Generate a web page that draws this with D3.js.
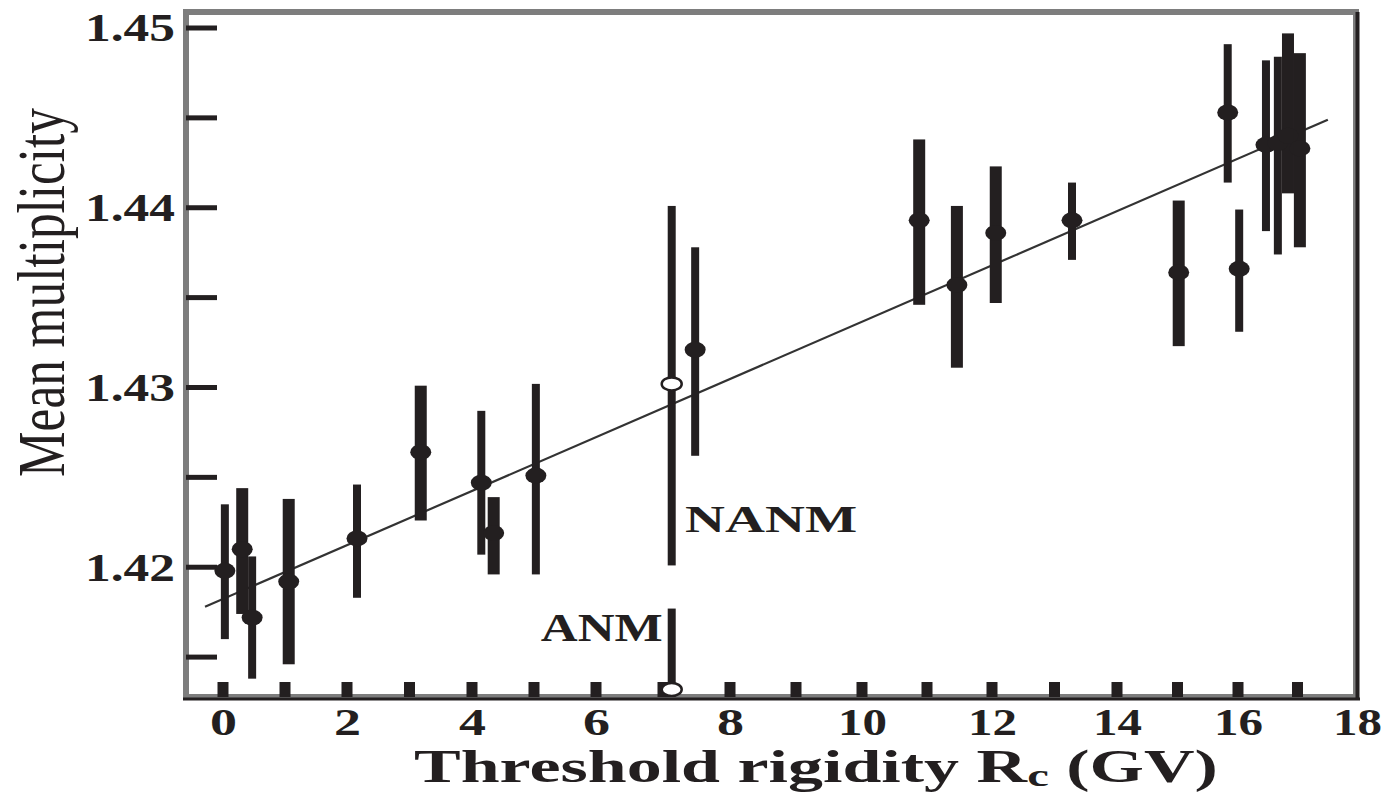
<!DOCTYPE html>
<html>
<head>
<meta charset="utf-8">
<script src="https://cdn.jsdelivr.net/npm/d3@7/dist/d3.min.js"></script>
<style>
  html, body { margin: 0; padding: 0; background: #fff; }
  svg { display: block; }
  text { font-family: "Liberation Serif", "Times New Roman", serif; fill: #231f20; }
</style>
</head>
<body>
<svg id="chart" width="1386" height="793"></svg>
<script>
// ---------------- data ----------------
// Threshold rigidity Rc (GV) of each station
const rigidity = [0.03, 0.31, 0.47, 1.06, 2.16, 3.18, 4.15, 4.35, 5.03, 7.48,
                  10.88, 11.46, 12.06, 13.28, 15.02, 15.83, 16.02, 16.47, 16.67, 16.84, 17.04];
// mean multiplicity
const multiplicity = [1.4198, 1.4210, 1.4172, 1.4192, 1.4216, 1.4264, 1.4247, 1.4219, 1.4251, 1.4321,
                      1.4393, 1.4357, 1.4386, 1.4393, 1.4364, 1.4453, 1.4366, 1.4435, 1.4436, 1.4440, 1.4433];
const errLow  = [1.4160, 1.4174, 1.4138, 1.4146, 1.4183, 1.4226, 1.4207, 1.4196, 1.4196, 1.4262,
                 1.4346, 1.4311, 1.4347, 1.4371, 1.4323, 1.4414, 1.4331, 1.4387, 1.4374, 1.4408, 1.4378];
const errHigh = [1.4235, 1.4244, 1.4206, 1.4238, 1.4246, 1.4301, 1.4287, 1.4239, 1.4302, 1.4378,
                 1.4438, 1.4401, 1.4423, 1.4414, 1.4404, 1.4491, 1.4399, 1.4482, 1.4484, 1.4497, 1.4486];
// detector group (drawn with a narrow or a wide error bar)
const detectorGroup = ["A", "B", "A", "B", "A", "B", "A", "B", "A", "A",
                       "B", "B", "B", "A", "B", "A", "A", "A", "A", "B", "B"];

// open-circle stations (NANM, ANM)
const openNames = ["NANM", "ANM"];
const openRigidity = [7.13, 7.13];
const openMultiplicity = [1.4302, 1.4132];
const openLow  = [1.4201, 1.4080];
const openHigh = [1.4401, 1.4177];

// fitted straight line, end points
const fitX = [-0.29, 17.51];
const fitY = [1.4178, 1.4449];

// axes
const xTickLabels = [0, 2, 4, 6, 8, 10, 12, 14, 16, 18];
const xTickMarks  = [0, 1, 2, 3, 4, 5, 6, 7, 8, 9, 10, 11, 12, 13, 14, 15, 16, 17];
const yTickLabels = [1.42, 1.43, 1.44, 1.45];
const yTickMarks  = [1.415, 1.42, 1.425, 1.43, 1.435, 1.44, 1.445, 1.45];
const xTitle = "Threshold rigidity R";
const xTitleSub = "c";
const xTitleEnd = " (GV)";
const yTitle = "Mean multiplicity";

// ---------------- drawing ----------------
const ink = "#231f20";
const svg = d3.select("#chart");
svg.append("rect").attr("width", 1386).attr("height", 793).attr("fill", "#fff");

// the printed axis is slightly uneven; follow its tick positions (polylinear scale)
const x = d3.scaleLinear()
  .domain(xTickLabels)
  .range([223, 347, 472, 596, 730, 862, 992, 1117, 1238, 1357]);
const T = 12, B = 697;
const L = 186, R = 1356;
const y = d3.scaleLinear().domain([1.41278, 1.45089]).range([B, T]);

svg.append("defs").append("clipPath").attr("id", "plotclip")
  .append("rect").attr("x", L).attr("y", T).attr("width", R - L).attr("height", B - T);

// frame
svg.append("rect").attr("x", L).attr("y", T).attr("width", R - L).attr("height", B - T)
  .attr("fill", "none").attr("stroke", "#7d7d7d").attr("stroke-width", 6);
svg.append("line").attr("x1", L - 3).attr("x2", R + 4).attr("y1", B + 2).attr("y2", B + 2)
  .attr("stroke", ink).attr("stroke-width", 3);
svg.append("line").attr("x1", R + 1.5).attr("x2", R + 1.5).attr("y1", T).attr("y2", B + 3)
  .attr("stroke", ink).attr("stroke-width", 4);

// inward tick marks
svg.append("g").selectAll("line").data(yTickMarks).join("line")
  .attr("x1", L).attr("x2", L + 31)
  .attr("y1", d => y(d)).attr("y2", d => y(d))
  .attr("stroke", ink).attr("stroke-width", 5);
svg.append("g").selectAll("rect").data(xTickMarks).join("rect")
  .attr("x", d => x(d) - 5.5).attr("width", 11)
  .attr("y", B - 15).attr("height", 15)
  .attr("fill", ink);

// tick labels via d3 axes
const xAxis = svg.append("g").attr("transform", `translate(0,${B})`)
  .call(d3.axisBottom(x).tickValues(xTickLabels).tickSize(0).tickFormat(d3.format("d")));
xAxis.select(".domain").remove();
xAxis.selectAll("text")
  .attr("y", 38).attr("dy", null)
  .style("font-family", '"Liberation Serif", serif')
  .style("font-weight", "bold").style("font-size", "37px").style("fill", ink)
  .attr("textLength", d => String(d).length === 1 ? 27 : 49)
  .attr("lengthAdjust", "spacingAndGlyphs");

const yAxis = svg.append("g").attr("transform", `translate(175,0)`)
  .call(d3.axisLeft(y).tickValues(yTickLabels).tickSize(0).tickPadding(0).tickFormat(d3.format(".2f")));
yAxis.select(".domain").remove();
yAxis.selectAll("text")
  .attr("x", 0).attr("dy", null).attr("y", 13)
  .style("font-family", '"Liberation Serif", serif')
  .style("font-weight", "bold").style("font-size", "39px").style("fill", ink)
  .attr("textLength", 90).attr("lengthAdjust", "spacingAndGlyphs");

// plot contents
const plot = svg.append("g").attr("clip-path", "url(#plotclip)");

// fitted line
plot.append("path")
  .datum(fitX.map((d, i) => [d, fitY[i]]))
  .attr("d", d3.line().x(d => x(d[0])).y(d => y(d[1])))
  .attr("fill", "none").attr("stroke", "#333").attr("stroke-width", 2.2);

const pts = rigidity.map((r, i) => ({ r, m: multiplicity[i], lo: errLow[i], hi: errHigh[i], g: detectorGroup[i] }));

// error bars
plot.append("g").selectAll("rect").data(pts).join("rect")
  .attr("x", d => x(d.r) - (d.g === "B" ? 6 : 4))
  .attr("width", d => d.g === "B" ? 12 : 8)
  .attr("y", d => y(d.hi))
  .attr("height", d => y(d.lo) - y(d.hi))
  .attr("fill", ink);

// filled markers
plot.append("g").selectAll("ellipse").data(pts).join("ellipse")
  .attr("cx", d => x(d.r)).attr("cy", d => y(d.m))
  .attr("rx", 10.5).attr("ry", 8)
  .attr("fill", ink);

// open markers with error bars
const opens = openNames.map((n, i) => ({ n, r: openRigidity[i], m: openMultiplicity[i], lo: openLow[i], hi: openHigh[i] }));
plot.append("g").selectAll("rect").data(opens).join("rect")
  .attr("x", d => x(d.r) - 4).attr("width", 8)
  .attr("y", d => y(d.hi)).attr("height", d => y(d.lo) - y(d.hi))
  .attr("fill", ink);
plot.append("g").selectAll("ellipse").data(opens).join("ellipse")
  .attr("cx", d => x(d.r)).attr("cy", d => y(d.m))
  .attr("rx", 10).attr("ry", 6.5)
  .attr("fill", "#fff").attr("stroke", ink).attr("stroke-width", 2.5);

// annotations
svg.append("text").text(openNames[0])
  .attr("x", x(7.33)).attr("y", y(1.42194))
  .style("font-weight", "bold").style("font-size", "38px")
  .attr("textLength", 172).attr("lengthAdjust", "spacingAndGlyphs");
svg.append("text").text(openNames[1])
  .attr("x", x(5.11)).attr("y", y(1.41589))
  .style("font-weight", "bold").style("font-size", "39px")
  .attr("textLength", 122).attr("lengthAdjust", "spacingAndGlyphs");

// axis titles
const xt = svg.append("text").attr("x", 0).attr("y", 0)
  .style("font-weight", "bold").style("font-size", "46px");
xt.append("tspan").text(xTitle);
xt.append("tspan").text(xTitleSub).attr("dy", 4).style("font-size", "32px");
xt.append("tspan").text(xTitleEnd).attr("dy", -4);
const xw = xt.node().getComputedTextLength();
xt.attr("transform", `translate(414,782) scale(${804 / xw},1)`);

svg.append("text").text(yTitle)
  .attr("transform", "translate(64,477) rotate(-90)")
  .attr("x", 0).attr("y", 0)
  .style("font-size", "68px")
  .attr("textLength", 369).attr("lengthAdjust", "spacingAndGlyphs");
</script>
</body>
</html>
